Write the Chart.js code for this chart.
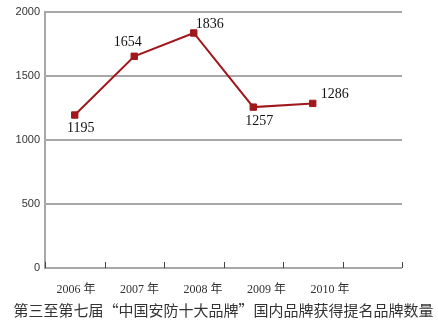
<!DOCTYPE html>
<html><head><meta charset="utf-8">
<script src="https://cdn.jsdelivr.net/npm/chart.js@4/dist/chart.umd.min.js"></script>
<style>html,body{margin:0;padding:0;background:#fff;}canvas{display:block;}</style>
</head><body>
<canvas id="c" width="438" height="324"></canvas>
<script>
const categories = ['2006', '2007', '2008', '2009', '2010', ''];
const yearLabels = ['2006 年', '2007 年', '2008 年', '2009 年', '2010 年'];
const values = [1195, 1654, 1836, 1257, 1286];
const yTicks = [0, 500, 1000, 1500, 2000];
const caption = '第三至第七届“中国安防十大品牌”国内品牌获得提名品牌数量';

const lineColor = '#a0181c';
const gridColor = '#a8a8a8';

const extras = {
  id: 'extras',
  afterDatasetsDraw(chart) {
    const ctx = chart.ctx, x = chart.scales.x, area = chart.chartArea;
    ctx.save();
    ctx.strokeStyle = '#444';
    ctx.lineWidth = 1;
    for (let k = 0; k <= categories.length; k++) {
      const px = Math.round(x.getPixelForValue(k - 0.5)) + 0.5;
      ctx.beginPath();
      ctx.moveTo(px, area.bottom);
      ctx.lineTo(px, area.bottom - 6);
      ctx.stroke();
    }
    const offs = [[6, 13], [-6.5, -14], [16, -8.5], [6, 14], [22, -9.5]];
    const meta = chart.getDatasetMeta(0);
    ctx.fillStyle = '#111';
    ctx.font = '14px "Liberation Serif", serif';
    ctx.textAlign = 'center';
    ctx.textBaseline = 'middle';
    meta.data.forEach((pt, i) => {
      ctx.fillText(String(values[i]), pt.x + offs[i][0], pt.y + offs[i][1]);
    });
    // caption
    ctx.fillStyle = '#333';
    ctx.font = '15px "Noto Sans CJK SC", sans-serif';
    ctx.textAlign = 'center';
    ctx.textBaseline = 'middle';
    ctx.fillText(caption, chart.width / 2 + 4.5, 310);
    ctx.restore();
  }
};

new Chart(document.getElementById('c'), {
  type: 'line',
  data: {
    labels: categories,
    datasets: [{
      data: values,
      borderColor: lineColor,
      borderWidth: 2,
      backgroundColor: lineColor,
      pointStyle: 'rect',
      pointRadius: 4.5,
      pointBorderWidth: 1,
      pointBorderColor: lineColor,
      pointBackgroundColor: lineColor,
      tension: 0,
      fill: false
    }]
  },
  options: {
    responsive: false,
    animation: false,
    devicePixelRatio: 1,
    layout: { padding: { top: 12, right: 36, left: 0, bottom: 24 } },
    plugins: {
      legend: { display: false },
      tooltip: { enabled: false },
      title: { display: false }
    },
    scales: {
      x: {
        type: 'category',
        offset: true,
        grid: { display: false, drawTicks: false },
        border: { display: false },
        ticks: { display: false },
        afterFit(s) { s.height = 0; }
      },
      xl: {
        type: 'linear',
        position: 'bottom',
        min: 0.512,
        max: 6.134,
        grid: { display: false, drawTicks: false },
        border: { display: false },
        afterBuildTicks(s) { s.ticks = yearLabels.map((_, i) => ({ value: i + 1 })); },
        ticks: {
          padding: 15,
          color: '#333',
          maxRotation: 0,
          autoSkip: false,
          font: { family: '"Liberation Serif", "Noto Sans CJK SC", serif', size: 12 },
          callback: (v) => yearLabels[Math.round(v) - 1] || ''
        },
        afterFit(s) { s.height = 32; }
      },
      y: {
        min: 0,
        max: 2000,
        afterBuildTicks(s) { s.ticks = yTicks.map(v => ({ value: v })); },
        grid: { color: gridColor, lineWidth: 2, drawTicks: false },
        border: { display: true, color: gridColor, width: 2 },
        ticks: {
          padding: 5,
          color: '#333',
          font: { family: '"Liberation Sans", Arial, sans-serif', size: 11 },
          callback: (v) => String(v)
        },
        afterFit(s) { s.width = 45; }
      }
    }
  },
  plugins: [extras]
});
</script>
</body></html>
